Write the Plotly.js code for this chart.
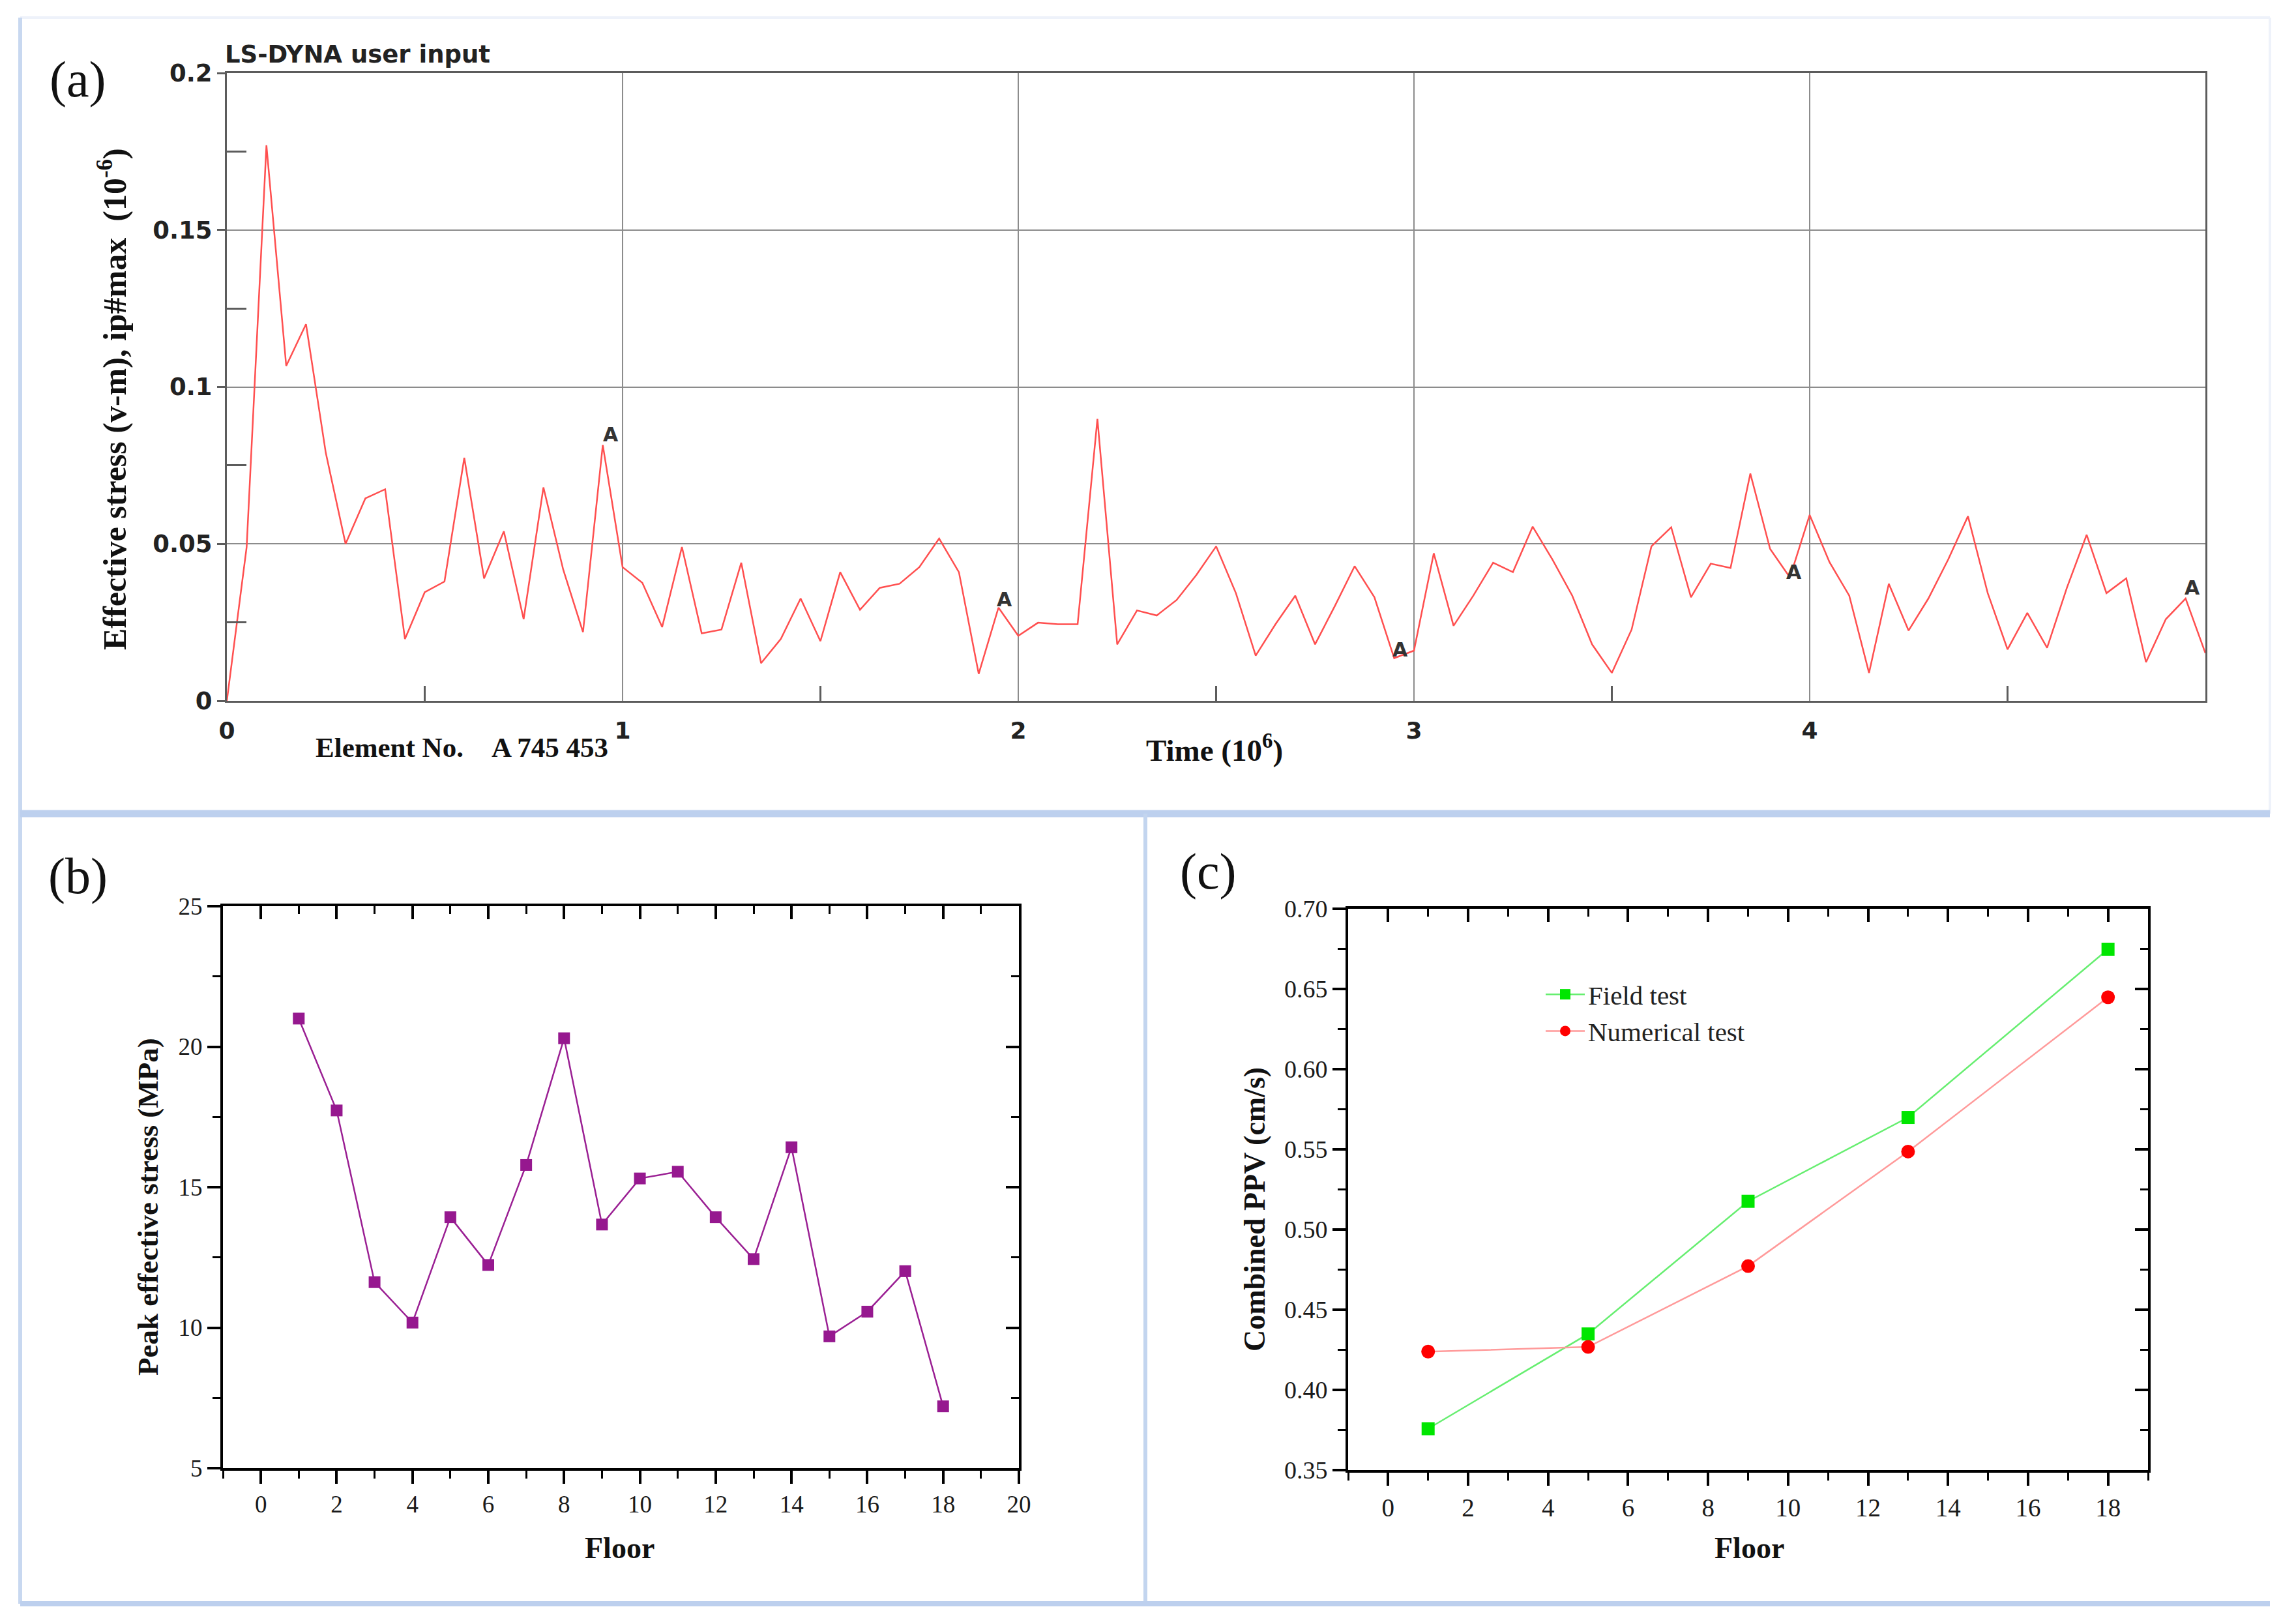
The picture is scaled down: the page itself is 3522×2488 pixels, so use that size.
<!DOCTYPE html>
<html>
<head>
<meta charset="utf-8">
<script src="https://cdn.plot.ly/plotly-3.0.1.min.js"></script>
<style>
  html, body { margin: 0; padding: 0; background: #ffffff; }
  #chart { width: 3522px; height: 2488px; }
</style>
</head>
<body>
<div id="chart"></div>
<script>
// ---------------- DATA ----------------
// Panel (a): LS-DYNA effective stress history
const aTime = [0, 0.05, 0.1, 0.15, 0.2, 0.25, 0.3, 0.35, 0.4, 0.45, 0.5, 0.55, 0.6, 0.65, 0.7, 0.75, 0.8, 0.85, 0.9, 0.95,
  1.0, 1.05, 1.1, 1.15, 1.2, 1.25, 1.3, 1.35, 1.4, 1.45, 1.5, 1.55, 1.6, 1.65, 1.7, 1.75, 1.8, 1.85, 1.9, 1.95,
  2.0, 2.05, 2.1, 2.15, 2.2, 2.25, 2.3, 2.35, 2.4, 2.45, 2.5, 2.55, 2.6, 2.65, 2.7, 2.75, 2.8, 2.85, 2.9, 2.95,
  3.0, 3.05, 3.1, 3.15, 3.2, 3.25, 3.3, 3.35, 3.4, 3.45, 3.5, 3.55, 3.6, 3.65, 3.7, 3.75, 3.8, 3.85, 3.9, 3.95,
  4.0, 4.05, 4.1, 4.15, 4.2, 4.25, 4.3, 4.35, 4.4, 4.45, 4.5, 4.55, 4.6, 4.65, 4.7, 4.75, 4.8, 4.85, 4.9, 4.95, 5.0];
const aStress = [0, 0.049, 0.177, 0.1067, 0.120, 0.079, 0.050, 0.0645, 0.0674, 0.0197, 0.0346, 0.038, 0.0774, 0.039, 0.054, 0.026, 0.068, 0.0418, 0.0219, 0.0815,
  0.0426, 0.0376, 0.0235, 0.049, 0.0215, 0.0227, 0.044, 0.012, 0.0197, 0.0326, 0.019, 0.041, 0.029, 0.036, 0.0373, 0.0426, 0.0517, 0.041, 0.0086, 0.0297,
  0.0207, 0.0249, 0.0244, 0.0244, 0.0898, 0.018, 0.0288, 0.0272, 0.0321, 0.0401, 0.0492, 0.0343, 0.0144, 0.0244, 0.0335, 0.018, 0.0302, 0.0429, 0.033, 0.0136,
  0.016, 0.047, 0.0239, 0.0335, 0.0440, 0.041, 0.0555, 0.045, 0.0335, 0.018, 0.0089, 0.0227, 0.0492, 0.0553, 0.033, 0.0437, 0.0423, 0.0724, 0.0484, 0.0393,
  0.0592, 0.0442, 0.0335, 0.0089, 0.0373, 0.0224, 0.0326, 0.045, 0.0588, 0.0343, 0.0164, 0.028, 0.0169, 0.036, 0.0529, 0.0343, 0.039, 0.0123, 0.026, 0.0326, 0.0152];
const aXTicks = [0, 1, 2, 3, 4];
const aYTicks = [0, 0.05, 0.1, 0.15, 0.2];
const aYTickText = ['0', '0.05', '0.1', '0.15', '0.2'];
const aMarkX = [0.97, 1.965, 2.966, 3.961, 4.967];
const aMarkY = [0.0848, 0.0323, 0.0164, 0.041, 0.036];

// Panel (b): peak effective stress per floor
const floorsB = [1, 2, 3, 4, 5, 6, 7, 8, 9, 10, 11, 12, 13, 14, 15, 16, 17, 18];
const peakStress = [21.0, 17.73, 11.62, 10.18, 13.93, 12.23, 15.79, 20.3, 13.67, 15.31, 15.55, 13.93, 12.44, 16.42, 9.69, 10.57, 12.01, 7.2];

// Panel (c): combined PPV
const floorsC = [1, 5, 9, 13, 18];
const fieldPPV = [0.3758, 0.4349, 0.5176, 0.5699, 0.6748];
const numericalPPV = [0.4239, 0.4268, 0.4772, 0.5486, 0.6448];

// ---------------- LAYOUT HELPERS ----------------
const W = 3522, H = 2488;
const px = x => x / W;
const py = y => 1 - y / H;

const SERIF = 'Liberation Serif, Times New Roman, serif';
const SANS = 'DejaVu Sans, sans-serif';

const traces = [
  { x: aTime, y: aStress, xaxis: 'x', yaxis: 'y', mode: 'lines', type: 'scatter',
    line: { color: '#ff4f4f', width: 2.5 }, showlegend: false, hoverinfo: 'skip' },
  { x: floorsB, y: peakStress, xaxis: 'x2', yaxis: 'y2', mode: 'lines+markers', type: 'scatter',
    line: { color: '#9a1f93', width: 2.5 }, marker: { symbol: 'square', size: 18, color: '#96188f' },
    showlegend: false, hoverinfo: 'skip' },
  { x: floorsC, y: fieldPPV, xaxis: 'x3', yaxis: 'y3', mode: 'lines+markers', type: 'scatter', name: 'Field test',
    line: { color: '#66ee70', width: 2.5 }, marker: { symbol: 'square', size: 20, color: '#00e600' } },
  { x: floorsC, y: numericalPPV, xaxis: 'x3', yaxis: 'y3', mode: 'lines+markers', type: 'scatter', name: 'Numerical test',
    line: { color: '#ff9a9a', width: 2.5 }, marker: { symbol: 'circle', size: 21, color: '#ff0000' } },
  // empty traces so that the mirrored (inside-tick) top/right axes get drawn
  { x: [], y: [], xaxis: 'x4', yaxis: 'y2', type: 'scatter', mode: 'lines', showlegend: false, hoverinfo: 'skip' },
  { x: [], y: [], xaxis: 'x2', yaxis: 'y4', type: 'scatter', mode: 'lines', showlegend: false, hoverinfo: 'skip' },
  { x: [], y: [], xaxis: 'x5', yaxis: 'y3', type: 'scatter', mode: 'lines', showlegend: false, hoverinfo: 'skip' },
  { x: [], y: [], xaxis: 'x3', yaxis: 'y5', type: 'scatter', mode: 'lines', showlegend: false, hoverinfo: 'skip' }
];

const serifTick = { family: SERIF, size: 37, color: '#1a1a1a' };

function originAxis(extra) {
  return Object.assign({
    showline: true, linecolor: '#000', linewidth: 4, mirror: true,
    ticks: 'outside', ticklen: 20, tickwidth: 4, tickcolor: '#000',
    showgrid: false, zeroline: false, tickfont: serifTick, automargin: false
  }, extra);
}
function overlayAxis(extra) {
  return Object.assign({
    showline: false, ticks: 'inside', ticklen: 20, tickwidth: 4, tickcolor: '#000',
    showgrid: false, zeroline: false, showticklabels: false, automargin: false
  }, extra);
}

const gray = '#5c5c5c';
const layout = {
  width: W, height: H,
  margin: { l: 0, r: 0, t: 0, b: 0 },
  paper_bgcolor: '#ffffff', plot_bgcolor: '#ffffff',
  showlegend: true,
  // ----- panel (a)
  xaxis: {
    domain: [px(348), px(3383)], anchor: 'y', range: [0, 5],
    tickmode: 'array', tickvals: aXTicks, ticks: '',
    showgrid: true, gridcolor: '#8c8c8c', gridwidth: 2,
    showline: true, linecolor: gray, linewidth: 3, mirror: true, zeroline: false,
    tickfont: { family: SANS, size: 36, weight: 'bold', color: '#222' },
    ticklabelstandoff: 12,
    minor: { ticks: 'inside', ticklen: 23, tickwidth: 3, tickcolor: gray, tickmode: 'linear', tick0: 0.5, dtick: 1, showgrid: false },
    automargin: false
  },
  yaxis: {
    domain: [py(1075), py(112)], anchor: 'x', range: [0, 0.2],
    tickmode: 'array', tickvals: aYTicks, ticktext: aYTickText,
    ticks: 'outside', ticklen: 12, tickwidth: 3, tickcolor: gray,
    showgrid: true, gridcolor: '#8c8c8c', gridwidth: 2,
    showline: true, linecolor: gray, linewidth: 3, mirror: true, zeroline: false,
    tickfont: { family: SANS, size: 37, weight: 'bold', color: '#222' },
    minor: { ticks: 'inside', ticklen: 30, tickwidth: 3, tickcolor: gray, tickmode: 'linear', tick0: 0.025, dtick: 0.05, showgrid: false },
    automargin: false
  },
  // ----- panel (b)
  xaxis2: originAxis({
    domain: [px(342), px(1563)], anchor: 'y2', range: [-1, 20], tickmode: 'linear', tick0: 0, dtick: 2,
    minor: { ticks: 'outside', ticklen: 12, tickwidth: 3, tickcolor: '#000', tickmode: 'linear', tick0: 0, dtick: 1 }
  }),
  yaxis2: originAxis({
    domain: [py(2252), py(1390)], anchor: 'x2', range: [5, 25], tickmode: 'linear', tick0: 5, dtick: 5,
    minor: { ticks: 'outside', ticklen: 12, tickwidth: 3, tickcolor: '#000', tickmode: 'linear', tick0: 5, dtick: 2.5 }
  }),
  xaxis4: overlayAxis({
    overlaying: 'x2', anchor: 'y2', side: 'top', range: [-1, 20], tickmode: 'linear', tick0: 0, dtick: 2,
    minor: { ticks: 'inside', ticklen: 12, tickwidth: 3, tickcolor: '#000', tickmode: 'linear', tick0: 0, dtick: 1 }
  }),
  yaxis4: overlayAxis({
    overlaying: 'y2', anchor: 'x2', side: 'right', range: [5, 25], tickmode: 'linear', tick0: 5, dtick: 5,
    minor: { ticks: 'inside', ticklen: 12, tickwidth: 3, tickcolor: '#000', tickmode: 'linear', tick0: 5, dtick: 2.5 }
  }),
  // ----- panel (c)
  xaxis3: originAxis({
    domain: [px(2068), px(3295)], anchor: 'y3', range: [-1, 19], tickmode: 'linear', tick0: 0, dtick: 2,
    tickfont: { family: SERIF, size: 39, color: '#1a1a1a' },
    minor: { ticks: 'outside', ticklen: 12, tickwidth: 3, tickcolor: '#000', tickmode: 'linear', tick0: 0, dtick: 1 }
  }),
  yaxis3: originAxis({
    domain: [py(2255), py(1394)], anchor: 'x3', range: [0.35, 0.70], tickmode: 'linear', tick0: 0.35, dtick: 0.05,
    tickformat: '.2f', tickfont: { family: SERIF, size: 38, color: '#1a1a1a' },
    minor: { ticks: 'outside', ticklen: 12, tickwidth: 3, tickcolor: '#000', tickmode: 'linear', tick0: 0.35, dtick: 0.025 }
  }),
  xaxis5: overlayAxis({
    overlaying: 'x3', anchor: 'y3', side: 'top', range: [-1, 19], tickmode: 'linear', tick0: 0, dtick: 2,
    minor: { ticks: 'inside', ticklen: 12, tickwidth: 3, tickcolor: '#000', tickmode: 'linear', tick0: 0, dtick: 1 }
  }),
  yaxis5: overlayAxis({
    overlaying: 'y3', anchor: 'x3', side: 'right', range: [0.35, 0.70], tickmode: 'linear', tick0: 0.35, dtick: 0.05,
    minor: { ticks: 'inside', ticklen: 12, tickwidth: 3, tickcolor: '#000', tickmode: 'linear', tick0: 0.35, dtick: 0.025 }
  }),
  legend: {
    x: px(2366), y: py(1492), xanchor: 'left', yanchor: 'top',
    font: { family: SERIF, size: 41, color: '#222' },
    bgcolor: 'rgba(0,0,0,0)', borderwidth: 0, itemwidth: 60, tracegroupgap: 0
  },
  shapes: [
    // panel frames (light blue)
    { type: 'line', xref: 'paper', yref: 'paper', x0: px(31), x1: px(3482), y0: py(27), y1: py(27), line: { color: '#eef2fa', width: 4 }, layer: 'below' },
    { type: 'line', xref: 'paper', yref: 'paper', x0: px(3482), x1: px(3482), y0: py(27), y1: py(1248), line: { color: '#eef2fa', width: 4 }, layer: 'below' },
    { type: 'line', xref: 'paper', yref: 'paper', x0: px(31), x1: px(31), y0: py(27), y1: py(2460), line: { color: '#c8d8f0', width: 6 }, layer: 'below' },
    { type: 'line', xref: 'paper', yref: 'paper', x0: px(31), x1: px(3482), y0: py(1248), y1: py(1248), line: { color: '#bdd0ee', width: 11 }, layer: 'below' },
    { type: 'line', xref: 'paper', yref: 'paper', x0: px(1757), x1: px(1757), y0: py(1248), y1: py(2460), line: { color: '#c3d5ef', width: 6 }, layer: 'below' },
    { type: 'line', xref: 'paper', yref: 'paper', x0: px(31), x1: px(3482), y0: py(2460), y1: py(2460), line: { color: '#bdd0ee', width: 8 }, layer: 'below' }
  ],
  annotations: [
    { text: '(a)', xref: 'paper', yref: 'paper', x: px(119), y: py(121), xanchor: 'center', yanchor: 'middle', showarrow: false, font: { family: SERIF, size: 78, color: '#111' } },
    { text: '(b)', xref: 'paper', yref: 'paper', x: px(119), y: py(1343), xanchor: 'center', yanchor: 'middle', showarrow: false, font: { family: SERIF, size: 78, color: '#111' } },
    { text: '(c)', xref: 'paper', yref: 'paper', x: px(1853), y: py(1336), xanchor: 'center', yanchor: 'middle', showarrow: false, font: { family: SERIF, size: 78, color: '#111' } },
    { text: 'LS-DYNA user input', xref: 'paper', yref: 'paper', x: px(343), y: py(84), xanchor: 'left', yanchor: 'middle', showarrow: false, font: { family: SANS, size: 37, weight: 'bold', color: '#222' } },
    { text: 'Effective stress (v-m), ip#max\u00a0\u00a0(10<sup>-6</sup>)', xref: 'paper', yref: 'paper', x: px(172), y: py(612), xanchor: 'center', yanchor: 'middle', textangle: -90, showarrow: false, font: { family: SERIF, size: 50, weight: 'bold', color: '#111' } },
    { text: 'Element No.\u00a0\u00a0\u00a0\u00a0A 745 453', xref: 'paper', yref: 'paper', x: px(708), y: py(1146), xanchor: 'center', yanchor: 'middle', showarrow: false, font: { family: SERIF, size: 43, weight: 'bold', color: '#111' } },
    { text: 'Time (10<sup>6</sup>)', xref: 'paper', yref: 'paper', x: px(1863), y: py(1148), xanchor: 'center', yanchor: 'middle', showarrow: false, font: { family: SERIF, size: 47, weight: 'bold', color: '#111' } },
    { text: 'Floor', xref: 'paper', yref: 'paper', x: px(950), y: py(2374), xanchor: 'center', yanchor: 'middle', showarrow: false, font: { family: SERIF, size: 46, weight: 'bold', color: '#111' } },
    { text: 'Peak effective stress (MPa)', xref: 'paper', yref: 'paper', x: px(227), y: py(1851), xanchor: 'center', yanchor: 'middle', textangle: -90, showarrow: false, font: { family: SERIF, size: 45, weight: 'bold', color: '#111' } },
    { text: 'Floor', xref: 'paper', yref: 'paper', x: px(2683), y: py(2374), xanchor: 'center', yanchor: 'middle', showarrow: false, font: { family: SERIF, size: 46, weight: 'bold', color: '#111' } },
    { text: 'Combined PPV (cm/s)', xref: 'paper', yref: 'paper', x: px(1924), y: py(1855), xanchor: 'center', yanchor: 'middle', textangle: -90, showarrow: false, font: { family: SERIF, size: 46, weight: 'bold', color: '#111' } }
  ]
};

aMarkX.forEach((mx, i) => {
  layout.annotations.push({ text: 'A', xref: 'x', yref: 'y', x: mx, y: aMarkY[i], xanchor: 'center', yanchor: 'middle',
    showarrow: false, font: { family: SANS, size: 30, weight: 'bold', color: '#333' } });
});

Plotly.newPlot('chart', traces, layout, { staticPlot: true, displayModeBar: false });
</script>
</body>
</html>
